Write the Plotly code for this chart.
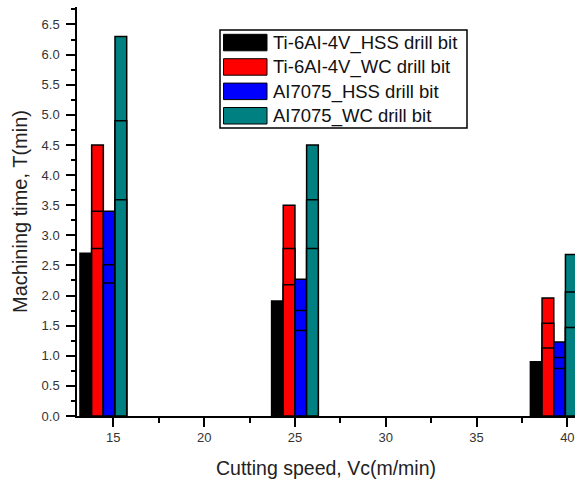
import plotly.graph_objects as go

# Cutting speeds (m/min) at which each group of columns is centred
speeds = [14.45, 25.0, 39.25]

series_names = [
    "Ti-6AI-4V_HSS drill bit",
    "Ti-6AI-4V_WC drill bit",
    "AI7075_HSS drill bit",
    "AI7075_WC drill bit",
]
series_colors = ["#000000", "#ff0000", "#0000ff", "#008080"]

# Machining time (min). Each inner list is one overlaid level (tallest first),
# so the shorter levels appear as bands inside every column.
ti_hss_levels = [[2.70, 1.91, 0.90]]
ti_wc_levels = [[4.50, 3.50, 1.96], [3.40, 2.78, 1.54], [2.78, 2.18, 1.13]]
al_hss_levels = [[3.40, 2.27, 1.23], [2.51, 1.75, 0.97], [2.21, 1.42, 0.79]]
al_wc_levels = [[6.30, 4.50, 2.68], [4.90, 3.59, 2.06], [3.59, 2.78, 1.47]]

x_ticks = [15, 20, 25, 30, 35, 40]
y_ticks = [0.0, 0.5, 1.0, 1.5, 2.0, 2.5, 3.0, 3.5, 4.0, 4.5, 5.0, 5.5, 6.0, 6.5]

x_title = "Cutting speed, Vc(m/min)"
y_title = "Machining time, T(min)"

BAR_W = 0.643
FONT = "Liberation Sans, Arial, sans-serif"

fig = go.Figure()
all_levels = [ti_hss_levels, ti_wc_levels, al_hss_levels, al_wc_levels]
for i, (name, color, levels) in enumerate(zip(series_names, series_colors, all_levels)):
    for lv in levels:
        fig.add_trace(go.Bar(
            x=speeds, y=lv, width=BAR_W, offset=(i - 2) * BAR_W,
            marker=dict(color=color, line=dict(color="black", width=1.5)),
            name=name, showlegend=False,
        ))

# Plot area in pixels (for placing the hand-drawn legend box)
L, R, T, B = 77, 0, 7, 64
W, H = 575, 480
pw, ph = W - L - R, H - T - B


def px(xp):
    return (xp - L) / pw


def py(yp):
    return (H - B - yp) / ph


shapes = [dict(type="rect", xref="paper", yref="paper",
               x0=px(220), x1=px(467), y0=py(30), y1=py(128),
               line=dict(color="black", width=1.5), fillcolor="white", layer="above")]
annotations = []
row_top = 34.3
row_step = 24.4
for k, (name, color) in enumerate(zip(series_names, series_colors)):
    top = row_top + k * row_step
    shapes.append(dict(type="rect", xref="paper", yref="paper",
                       x0=px(223.5), x1=px(267), y0=py(top), y1=py(top + 16.5),
                       line=dict(color="black", width=1), fillcolor=color, layer="above"))
    annotations.append(dict(xref="paper", yref="paper", x=px(271), y=py(top + 8.5),
                            text=name, showarrow=False, xanchor="left", yanchor="middle",
                            font=dict(family=FONT, size=18.5, color="#111")))

axis_common = dict(
    showline=True, linecolor="black", linewidth=1.5, mirror=False,
    showgrid=False, zeroline=False, ticks="outside", ticklen=9, tickwidth=1.5,
    tickcolor="black", tickfont=dict(family=FONT, size=13, color="#333"),
)

fig.update_layout(
    width=W, height=H,
    margin=dict(l=L, r=R, t=T, b=B),
    paper_bgcolor="white", plot_bgcolor="white",
    barmode="overlay",
    shapes=shapes, annotations=annotations,
    xaxis=dict(range=[13.0, 40.42], tickvals=x_ticks, ticktext=[str(v) for v in x_ticks],
               minor=dict(dtick=2.5, tick0=0, ticks="outside", ticklen=5, tickwidth=1.5, tickcolor="black"),
               title=dict(text=x_title, font=dict(family=FONT, size=19.5, color="#222"), standoff=17),
               **axis_common),
    yaxis=dict(range=[0, 6.79], tickvals=y_ticks, ticktext=[f"{v:.1f}" for v in y_ticks],
               ticklabelstandoff=4,
               minor=dict(dtick=0.25, tick0=0, ticks="outside", ticklen=4.5, tickwidth=1.5, tickcolor="black"),
               title=dict(text=y_title, font=dict(family=FONT, size=20, color="#222"), standoff=9),
               **axis_common),
)

fig.write_html("out.html")
